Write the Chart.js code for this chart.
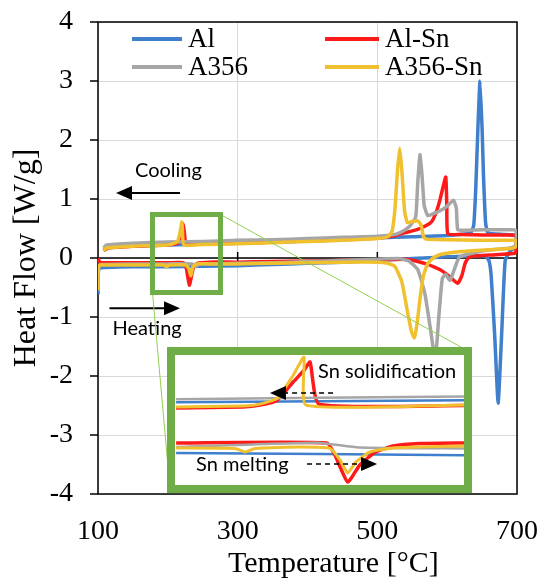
<!DOCTYPE html>
<html lang="en">
<head>
<meta charset="UTF-8">
<title>DSC Heat Flow</title>
<script src="https://cdn.jsdelivr.net/npm/chart.js"></script>
<style>
  body { margin: 0; background: #fff; }
  #wrap { position: relative; width: 539px; height: 579px; }
  #mainChart { display: block; }
  #xTitle { position: absolute; left: 228px; top: 545px; font: 30px "Liberation Serif", "Times New Roman", serif; line-height: 34px; white-space: nowrap; color: #000; }
  #inset { position: absolute; left: 167px; top: 347px; width: 305px; height: 146px; border: 8px solid #70AD47; box-sizing: border-box; background: #fff; }
  #insetChart { display: block; }
</style>
</head>
<body>
<div id="wrap">
  <canvas id="mainChart" width="539" height="579"></canvas>
  <div id="xTitle">Temperature [°C]</div>
  <div id="inset"><canvas id="insetChart" width="289" height="130"></canvas></div>
</div>

<script>
// ---- main plot: heating run (100 -> 700 °C) followed by cooling run (700 -> 100 °C) ----
const alTemp = [100, 100.5, 102, 110, 150, 200, 250, 300, 350, 400, 450, 500, 550, 600, 640, 655, 660, 663, 668, 673,
                678, 683, 690, 696, 698.5, 699.3, 698.5, 696, 680, 665, 658, 655, 652, 650, 647, 644, 641, 638, 633, 600,
                550, 500, 450, 400, 350, 300, 250, 200, 150, 115, 108];
const alFlow = [-0.62, -0.25, -0.17, -0.16, -0.15, -0.15, -0.14, -0.13, -0.11, -0.09, -0.07, -0.04, -0.01, 0.02, 0.04, 0.03, -0.05, -0.3, -1.3, -2.46,
                -1.3, -0.05, 0.12, 0.17, 0.22, 0.3, 0.37, 0.39, 0.4, 0.41, 0.43, 0.6, 1.4, 2.2, 3.0, 2.2, 1.2, 0.55, 0.42, 0.38,
                0.36, 0.34, 0.32, 0.29, 0.27, 0.25, 0.24, 0.22, 0.2, 0.18, 0.12];

const alSnTemp = [100, 102, 106, 150, 200, 222, 226, 229, 231, 234, 237, 242, 260, 300, 350, 400, 450, 500, 540, 555,
                  570, 590, 604, 615, 621, 626, 632, 660, 697, 698.8, 699.2, 698, 690, 650, 620, 601, 599.5, 598, 594, 590,
                  585, 578, 570, 557, 540, 520, 500, 450, 400, 350, 300, 250, 226, 224, 222, 219, 214, 200, 150, 115, 108];
const alSnFlow = [0.0, -0.06, -0.08, -0.08, -0.08, -0.08, -0.15, -0.35, -0.46, -0.3, -0.15, -0.09, -0.07, -0.07, -0.06, -0.05, -0.04, -0.03, -0.02, -0.05,
                  -0.1, -0.2, -0.32, -0.43, -0.3, -0.08, 0.02, 0.05, 0.08, 0.15, 0.3, 0.38, 0.39, 0.39, 0.4, 0.41, 0.9, 1.37, 1.2, 1.0,
                  0.8, 0.62, 0.55, 0.48, 0.43, 0.37, 0.34, 0.31, 0.29, 0.27, 0.25, 0.24, 0.24, 0.4, 0.58, 0.4, 0.25, 0.22, 0.2, 0.17, 0.13];

const a356Temp = [100, 101, 105, 150, 200, 235, 240, 245, 300, 350, 400, 450, 500, 530, 545, 558, 568, 576, 583, 588,
                  593, 598, 604, 610, 618, 650, 690, 697, 698.8, 699.2, 698, 690, 650, 620, 615, 613, 609, 600, 590, 580,
                  572, 567, 564, 561, 558, 555, 548, 540, 525, 500, 450, 400, 350, 300, 250, 200, 150, 112, 108];
const a356Flow = [-0.3, -0.13, -0.11, -0.1, -0.1, -0.1, -0.14, -0.1, -0.09, -0.08, -0.06, -0.04, -0.02, -0.01, -0.05, -0.2, -0.6, -1.2, -1.72, -1.0,
                  -0.35, -0.28, -0.38, -0.2, 0.02, 0.12, 0.17, 0.2, 0.25, 0.38, 0.47, 0.48, 0.48, 0.47, 0.48, 0.85, 0.98, 0.88, 0.8, 0.75,
                  0.72, 0.9, 1.4, 1.75, 1.3, 0.7, 0.56, 0.48, 0.4, 0.37, 0.35, 0.33, 0.31, 0.3, 0.28, 0.27, 0.25, 0.22, 0.17];

const a356SnTemp = [100, 100.5, 103, 150, 195, 198, 202, 226, 230, 233, 236, 242, 260, 300, 350, 400, 450, 500, 515, 525,
                    535, 543, 549, 553, 557, 561, 566, 572, 580, 590, 620, 660, 690, 697, 698.8, 699.3, 698, 690, 650, 600,
                    570, 566, 563, 558, 550, 543, 539, 535, 532, 529, 525, 521, 515, 500, 450, 400, 350, 300, 250, 223,
                    221, 220, 217, 213, 200, 150, 112, 108];
const a356SnFlow = [-0.55, -0.18, -0.12, -0.12, -0.12, -0.15, -0.12, -0.12, -0.18, -0.3, -0.15, -0.1, -0.1, -0.1, -0.09, -0.08, -0.07, -0.07, -0.09, -0.14,
                    -0.4, -0.9, -1.25, -1.35, -1.1, -0.7, -0.3, -0.1, 0.0, 0.06, 0.11, 0.14, 0.16, 0.18, 0.2, 0.26, 0.3, 0.3, 0.3, 0.31,
                    0.32, 0.36, 0.55, 0.63, 0.62, 0.6, 0.8, 1.5, 1.86, 1.5, 0.8, 0.45, 0.36, 0.33, 0.3, 0.28, 0.26, 0.24, 0.23, 0.22,
                    0.45, 0.61, 0.4, 0.27, 0.22, 0.2, 0.17, 0.12];

// ---- inset (zoom of the Sn region, own scale) ----
const insetAlHeatT = [174, 278];
const insetAlHeatF = [-0.258, -0.28];
const insetAlCoolT = [278, 174];
const insetAlCoolF = [0.29, 0.27];

const insetAlSnHeatT = [174, 228.5, 231.4, 236, 240.4, 245.9, 252.4, 262, 278];
const insetAlSnHeatF = [-0.154, -0.154, -0.28, -0.56, -0.38, -0.25, -0.185, -0.16, -0.154];
const insetAlSnCoolT = [278, 225.6, 222.4, 220.2, 216.3, 210.5, 204.3, 198, 174];
const insetAlSnCoolF = [0.235, 0.25, 0.687, 0.6, 0.48, 0.29, 0.24, 0.22, 0.21];

const insetA356HeatT = [174, 225, 240, 278];
const insetA356HeatF = [-0.195, -0.15, -0.2, -0.21];
const insetA356CoolT = [278, 174];
const insetA356CoolF = [0.33, 0.3];

const insetA356SnHeatT = [174, 195.3, 198.9, 202.5, 218.8, 229.6, 233.2, 236, 239, 244, 252.4, 278];
const insetA356SnHeatF = [-0.206, -0.21, -0.247, -0.21, -0.195, -0.21, -0.33, -0.465, -0.35, -0.247, -0.205, -0.185];
const insetA356SnCoolT = [278, 220.9, 220.2, 216.3, 210.5, 204.3, 198, 174];
const insetA356SnCoolF = [0.24, 0.24, 0.739, 0.55, 0.31, 0.25, 0.23, 0.22];

const xTicks = [100, 300, 500, 700];

const colors = { al: '#3F7FCC', alSn: '#FF1A1A', a356: '#A6A6A6', a356Sn: '#F0C02E' };
const serif = '"Liberation Serif", "Times New Roman", serif';
const sans = 'Lato, "Open Sans", sans-serif';

function points(temps, flows) {
    return temps.map((t, i) => ({ x: t, y: flows[i] }));
}

// heating segment, a gap, then cooling segment
function loop(heatT, heatF, coolT, coolF) {
    return points(heatT, heatF).concat([{ x: heatT[heatT.length - 1], y: null }], points(coolT, coolF));
}

function arrow(ctx, x1, y1, x2, y2, dashed, width) {
    const dir = Math.sign(x2 - x1);
    const headLen = 16, headHalf = 7;
    ctx.save();
    ctx.strokeStyle = '#000';
    ctx.fillStyle = '#000';
    ctx.lineWidth = width;
    if (dashed) ctx.setLineDash([5, 4]);
    ctx.beginPath();
    ctx.moveTo(x1, y1);
    ctx.lineTo(x2 - dir * headLen, y2);
    ctx.stroke();
    ctx.setLineDash([]);
    ctx.beginPath();
    ctx.moveTo(x2, y2);
    ctx.lineTo(x2 - dir * headLen, y2 - headHalf);
    ctx.lineTo(x2 - dir * headLen, y2 + headHalf);
    ctx.closePath();
    ctx.fill();
    ctx.restore();
}

function label(ctx, text, x, y, font) {
    ctx.save();
    ctx.font = font;
    ctx.fillStyle = '#000';
    ctx.textAlign = 'left';
    ctx.textBaseline = 'middle';
    ctx.fillText(text, x, y);
    ctx.restore();
}

// plot frame, outside y ticks, axis line through 0 with crossing ticks
const framePlugin = {
    id: 'frame',
    beforeDatasetsDraw(chart) {
        const { ctx, chartArea: a, scales: { x, y } } = chart;
        ctx.save();
        ctx.strokeStyle = '#000';
        ctx.lineWidth = 1.5;
        ctx.strokeRect(a.left, a.top, a.right - a.left, a.bottom - a.top);
        ctx.beginPath();
        y.ticks.forEach(t => {
            const py = y.getPixelForValue(t.value);
            ctx.moveTo(a.left - 8, py);
            ctx.lineTo(a.left, py);
        });
        const y0 = y.getPixelForValue(0);
        ctx.moveTo(a.left, y0);
        ctx.lineTo(a.right, y0);
        xTicks.slice(1, -1).forEach(t => {
            const px = x.getPixelForValue(t);
            ctx.moveTo(px, y0 - 6);
            ctx.lineTo(px, y0 + 6);
        });
        ctx.stroke();
        ctx.restore();
    }
};

// legend inside the plot, two columns
const legendPlugin = {
    id: 'insideLegend',
    afterDraw(chart) {
        const { ctx, chartArea: a } = chart;
        const colX = [34, 227], colLen = [50, 54], rowY = [17, 45];
        chart.data.datasets.forEach((ds, i) => {
            const c = i % 2, r = Math.floor(i / 2);
            const x0 = a.left + colX[c], yy = a.top + rowY[r];
            ctx.save();
            ctx.strokeStyle = ds.borderColor;
            ctx.lineWidth = 4;
            ctx.beginPath();
            ctx.moveTo(x0, yy);
            ctx.lineTo(x0 + colLen[c], yy);
            ctx.stroke();
            ctx.restore();
            label(ctx, ds.label, x0 + colLen[c] + 6, yy + 1, '27px ' + serif);
        });
    }
};

// Cooling / Heating arrows, zoom box and its connector lines
const mainNotes = {
    id: 'mainNotes',
    afterDatasetsDraw(chart) {
        const { ctx, scales: { x, y } } = chart;
        const px = v => x.getPixelForValue(v), py = v => y.getPixelForValue(v);
        label(ctx, 'Cooling', px(153), py(1.49), '20px ' + sans);
        arrow(ctx, px(217.4), py(1.1), px(125.8), py(1.1), false, 2);
        label(ctx, 'Heating', px(120.8), py(-1.19), '20px ' + sans);
        arrow(ctx, px(116.5), py(-0.85), px(217.4), py(-0.85), false, 2);

        ctx.save();
        ctx.strokeStyle = '#92D050';
        ctx.lineWidth = 1;
        ctx.beginPath();
        ctx.moveTo(px(275.4), py(0.737));
        ctx.lineTo(px(629.9), py(-1.576));
        ctx.moveTo(px(178), py(-0.585));
        ctx.lineTo(px(203.1), py(-3.915));
        ctx.stroke();
        ctx.strokeStyle = '#70AD47';
        ctx.lineWidth = 5;
        ctx.strokeRect(px(178), py(0.737), px(275.4) - px(178), py(-0.585) - py(0.737));
        ctx.restore();
    }
};

const insetNotes = {
    id: 'insetNotes',
    afterDatasetsDraw(chart) {
        const { ctx, scales: { x, y } } = chart;
        const px = v => x.getPixelForValue(v), py = v => y.getPixelForValue(v);
        label(ctx, 'Sn solidification', px(225.3), py(0.583), '20px ' + sans);
        arrow(ctx, px(230.7), py(0.365), px(207.9), py(0.365), true, 1.5);
        label(ctx, 'Sn melting', px(181.2), py(-0.382), '20px ' + sans);
        arrow(ctx, px(221.3), py(-0.372), px(246.6), py(-0.372), true, 1.5);
    }
};

function series(name, data, color, order, width) {
    return { label: name, data: data, borderColor: color, backgroundColor: color, order: order, borderWidth: width, spanGaps: false };
}

new Chart(document.getElementById('mainChart'), {
    type: 'line',
    data: {
        datasets: [
            series('Al', points(alTemp, alFlow), colors.al, 4, 3.5),
            series('Al-Sn', points(alSnTemp, alSnFlow), colors.alSn, 3, 3.5),
            series('A356', points(a356Temp, a356Flow), colors.a356, 2, 3.5),
            series('A356-Sn', points(a356SnTemp, a356SnFlow), colors.a356Sn, 1, 3.5)
        ]
    },
    options: {
        responsive: false,
        animation: false,
        layout: { padding: { top: 22, right: 22, left: 0, bottom: 0 } },
        plugins: { legend: { display: false }, tooltip: { enabled: false } },
        elements: { point: { radius: 0 }, line: { tension: 0.15 } },
        scales: {
            x: {
                type: 'linear', min: 100, max: 700,
                afterBuildTicks: s => { s.ticks = xTicks.map(v => ({ value: v })); },
                ticks: { padding: 0, color: '#000', font: { family: serif, size: 28 } },
                grid: { color: '#d9d9d9', tickColor: 'rgba(0,0,0,0)', tickLength: 21 },
                border: { display: false },
                afterFit: s => { s.height = 85; }
            },
            y: {
                min: -4, max: 4,
                ticks: { stepSize: 1, padding: 0, color: '#000', font: { family: serif, size: 28 } },
                grid: { color: '#d9d9d9', tickColor: 'rgba(0,0,0,0)', tickLength: 25 },
                border: { display: false },
                title: { display: true, text: 'Heat Flow [W/g]', color: '#000', font: { family: serif, size: 32 }, padding: { top: 7, bottom: 0 } },
                afterFit: s => { s.width = 98; }
            }
        }
    },
    plugins: [framePlugin, mainNotes, legendPlugin]
});

new Chart(document.getElementById('insetChart'), {
    type: 'line',
    data: {
        datasets: [
            series('Al', loop(insetAlHeatT, insetAlHeatF, insetAlCoolT, insetAlCoolF), colors.al, 4, 2.5),
            series('Al-Sn', loop(insetAlSnHeatT, insetAlSnHeatF, insetAlSnCoolT, insetAlSnCoolF), colors.alSn, 3, 3.5),
            series('A356', loop(insetA356HeatT, insetA356HeatF, insetA356CoolT, insetA356CoolF), colors.a356, 2, 2.5),
            series('A356-Sn', loop(insetA356SnHeatT, insetA356SnHeatF, insetA356SnCoolT, insetA356SnCoolF), colors.a356Sn, 1, 3)
        ]
    },
    options: {
        responsive: false,
        animation: false,
        layout: { padding: 0 },
        plugins: { legend: { display: false }, tooltip: { enabled: false } },
        elements: { point: { radius: 0 }, line: { tension: 0.15 } },
        scales: {
            x: { type: 'linear', display: false, min: 173.6, max: 278 },
            y: { display: false, min: -0.59, max: 0.76 }
        }
    },
    plugins: [insetNotes]
});
</script>
</body>
</html>
